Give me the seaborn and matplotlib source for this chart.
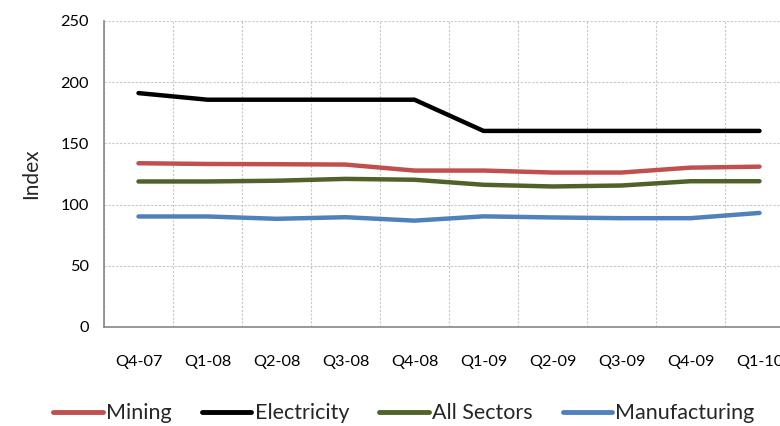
import matplotlib
matplotlib.use("Agg")
import matplotlib.pyplot as plt
import seaborn as sns
import pandas as pd
import numpy as np
from matplotlib.ticker import FixedLocator

quarters = ["Q4-07", "Q1-08", "Q2-08", "Q3-08", "Q4-08", "Q1-09", "Q2-09", "Q3-09", "Q4-09", "Q1-10"]
mining = [133.8, 133.2, 133.0, 132.7, 127.8, 127.8, 126.2, 126.2, 130.2, 131.0]
electricity = [191.1, 185.7, 185.7, 185.7, 185.7, 160.2, 160.2, 160.2, 160.2, 160.2]
all_sectors = [118.9, 118.9, 119.5, 121.0, 120.3, 116.2, 114.8, 115.6, 119.1, 119.1]
manufacturing = [90.3, 90.3, 88.4, 89.7, 86.9, 90.4, 89.5, 88.9, 88.9, 93.2]

series = {"Mining": mining, "Electricity": electricity,
          "All Sectors": all_sectors, "Manufacturing": manufacturing}
colors = {"Mining": "#C0504D", "Electricity": "#000000",
          "All Sectors": "#4F6228", "Manufacturing": "#4F81BD"}

rows = []
for name, vals in series.items():
    for i, (q, v) in enumerate(zip(quarters, vals)):
        rows.append({"pos": i, "quarter": q, "series": name, "value": v})
df = pd.DataFrame(rows)

sns.set_theme(style="white")
plt.rcParams['font.family'] = ['Lato', 'DejaVu Sans']

fig = plt.figure(figsize=(7.8, 4.26), dpi=100)
ax = fig.add_axes([104/780, (426-327)/426, (794-104)/780, (327-21)/426])

sns.lineplot(data=df, x="pos", y="value", hue="series", palette=colors,
             hue_order=list(series.keys()), linewidth=3.2, ax=ax, legend=False,
             solid_capstyle="round")

ax.set_xlim(-0.5, len(quarters) - 0.5)
ax.set_ylim(0, 250)
ax.set_yticks(np.arange(0, 251, 50))
ax.set_xticks(range(len(quarters)))
ax.set_xticklabels(quarters)
ax.xaxis.set_minor_locator(FixedLocator(np.arange(-0.5, len(quarters), 1.0)))
ax.tick_params(axis="x", which="major", length=0, pad=20, labelsize=11.7, colors="black")
ax.tick_params(axis="x", which="minor", length=5, width=1, color="#868686", direction="out")
ax.tick_params(axis="y", which="major", length=5, width=1, color="#868686", direction="out",
               labelsize=11.7, labelcolor="black", pad=6)
ax.grid(False)
ax.grid(True, which="minor", axis="x", color="#c8c8c8", linestyle=(0, (2, 1.5)), linewidth=0.8)
ax.grid(True, which="major", axis="y", color="#c8c8c8", linestyle=(0, (2, 1.5)), linewidth=0.8)
for s in ["top", "right"]:
    ax.spines[s].set_visible(False)
for s in ["left", "bottom"]:
    ax.spines[s].set_color("#868686")
    ax.spines[s].set_linewidth(1.2)
ax.set_xlabel("")
ax.set_ylabel("Index", fontsize=15, labelpad=14)

handles = [plt.Line2D([0], [0], color=colors[n], linewidth=3.5, solid_capstyle="round") for n in series]
fig.legend(handles, list(series.keys()), loc="center", bbox_to_anchor=(0.518, 0.03), ncol=4,
           frameon=False, fontsize=15.5, handlelength=2.3, handletextpad=0.15, columnspacing=1.4)

fig.savefig("out.png", dpi=100)
